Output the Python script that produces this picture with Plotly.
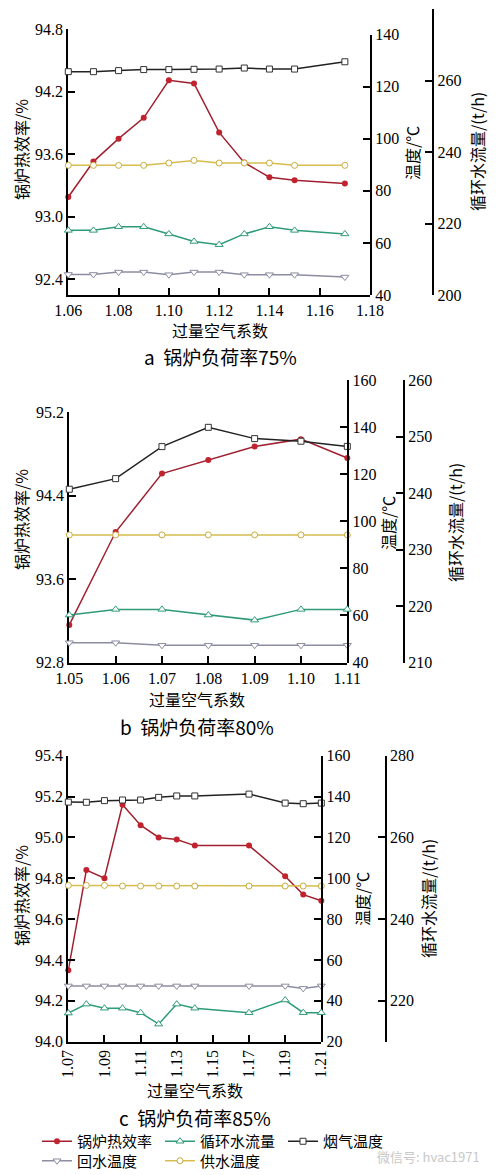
import plotly.graph_objects as go

W, H = 500, 1175
OFF = 8  # page body margin of the html page
NUM_FONT = "Liberation Serif"
CJK_FONT = "Noto Sans CJK SC"

# ── a: boiler load 75% ──
x_a = [1.06, 1.07, 1.08, 1.09, 1.10, 1.11, 1.12, 1.13, 1.14, 1.15, 1.17]
eff_a = [93.19, 93.53, 93.75, 93.95, 94.31, 94.28, 93.81, 93.52, 93.38, 93.35, 93.32]
flow_a = [218.1, 218.1, 219.1, 219.1, 217.1, 215.0, 214.1, 217.1, 219.1, 218.1, 217.1]
flue_a = [125.8, 125.8, 126.2, 126.6, 126.6, 126.7, 126.8, 127.2, 126.8, 126.8, 129.6]
ret_a = [47.9, 47.9, 48.8, 48.8, 47.8, 48.8, 48.8, 47.8, 47.8, 47.8, 46.9]
sup_a = [89.8, 89.8, 89.8, 89.8, 90.7, 91.7, 90.7, 90.7, 90.7, 89.8, 89.8]

# ── b: boiler load 80% ──
x_b = [1.05, 1.06, 1.07, 1.08, 1.09, 1.10, 1.11]
eff_b = [93.16, 94.05, 94.61, 94.74, 94.87, 94.94, 94.76]
flow_b = [218.4, 219.4, 219.4, 218.4, 217.5, 219.4, 219.4]
flue_b = [113.6, 118.1, 131.7, 139.9, 135.1, 134.0, 131.8]
ret_b = [48.4, 48.4, 47.3, 47.3, 47.3, 47.3, 47.3]
sup_b = [94.2, 94.2, 94.2, 94.2, 94.2, 94.2, 94.2]

# ── c: boiler load 85% ──
x_c = [1.07, 1.08, 1.09, 1.10, 1.11, 1.12, 1.13, 1.14, 1.17, 1.19, 1.20, 1.21]
eff_c = [94.35, 94.84, 94.80, 95.16, 95.06, 95.00, 94.99, 94.96, 94.96, 94.81, 94.72, 94.69]
flow_c = [217.0, 219.2, 218.2, 218.2, 217.1, 214.3, 219.2, 218.2, 217.1, 220.2, 217.1, 217.1]
flue_c = [137.3, 137.2, 138.0, 138.3, 138.3, 139.6, 140.3, 140.3, 141.2, 136.8, 136.5, 136.8]
ret_c = [47.3, 47.3, 47.3, 47.3, 47.3, 47.3, 47.3, 47.3, 47.3, 47.3, 46.1, 47.3]
sup_c = [96.5, 96.5, 96.5, 96.2, 96.2, 96.2, 96.2, 96.2, 96.2, 96.2, 96.2, 96.2]

# tick values
xt_a = [1.06, 1.08, 1.10, 1.12, 1.14, 1.16, 1.18]
xt_b = [1.05, 1.06, 1.07, 1.08, 1.09, 1.10, 1.11]
xt_c = [1.07, 1.09, 1.11, 1.13, 1.15, 1.17, 1.19, 1.21]
eff_t_a = [92.4, 93.0, 93.6, 94.2, 94.8]
eff_t_b = [92.8, 93.6, 94.4, 95.2]
eff_t_c = [94.0, 94.2, 94.4, 94.6, 94.8, 95.0, 95.2, 95.4]
tmp_t_a = [40, 60, 80, 100, 120, 140]
tmp_t_b = [40, 60, 80, 100, 120, 140, 160]
tmp_t_c = [20, 40, 60, 80, 100, 120, 140, 160]
flw_t_a = [200, 220, 240, 260, 280]
flw_t_b = [210, 220, 230, 240, 250, 260]
flw_t_c = [210, 220, 240, 260, 280]
flw_l_c = ["", "220", "240", "260", "280"]

NAMES = ["锅炉热效率", "循环水流量", "烟气温度", "回水温度", "供水温度"]


def fx(p):
    return (p - OFF) / W


def fy(p):
    return 1 - (p - OFF) / H


STYLE = {
    "eff": dict(line=dict(color="#a02030", width=1.5),
                marker=dict(symbol="circle", size=6, color="#c0222e")),
    "flow": dict(line=dict(color="#2e9b76", width=1.5),
                 marker=dict(symbol="triangle-up", size=7, color="white",
                             line=dict(color="#2e9b76", width=1))),
    "flue": dict(line=dict(color="#222222", width=1.5),
                 marker=dict(symbol="square", size=6, color="white",
                             line=dict(color="#333333", width=1))),
    "ret": dict(line=dict(color="#8c8ca2", width=1.5),
                marker=dict(symbol="triangle-down", size=7, color="white",
                            line=dict(color="#8c8ca2", width=1))),
    "sup": dict(line=dict(color="#d6bd4e", width=1.5),
                marker=dict(symbol="circle", size=6, color="white",
                            line=dict(color="#c9ad3c", width=1))),
}

fig = go.Figure()


def add_panel(xs, eff, flow, flue, ret, sup, xa, ya, yt, yf, legend=False):
    series = [("eff", eff, ya, "legend"), ("flow", flow, yf, "legend"),
              ("flue", flue, yt, "legend"), ("ret", ret, yt, "legend2"),
              ("sup", sup, yt, "legend2")]
    for name, (key, ys, yax, lg) in zip(NAMES, series):
        fig.add_trace(go.Scatter(
            x=xs, y=ys, xaxis=xa, yaxis=yax, mode="lines+markers",
            name=name, showlegend=legend, legend=lg, cliponaxis=False,
            **STYLE[key],
        ))


add_panel(x_a, eff_a, flow_a, flue_a, ret_a, sup_a, "x", "y", "y2", "y3")
add_panel(x_b, eff_b, flow_b, flue_b, ret_b, sup_b, "x2", "y4", "y5", "y6")
add_panel(x_c, eff_c, flow_c, flue_c, ret_c, sup_c, "x3", "y7", "y8", "y9", legend=True)

axis_common = dict(showline=True, linecolor="black", linewidth=2, ticks="inside",
                   ticklen=7, tickwidth=1.5, tickcolor="black", showgrid=False,
                   zeroline=False, automargin=False,
                   tickfont=dict(family=NUM_FONT, size=16, color="black"))


def xax(rng, dom, tv, fmt, anchor, angle=0):
    return dict(axis_common, range=rng, domain=dom, tickvals=tv, tickformat=fmt,
                anchor=anchor, tickangle=angle)


def yax(rng, dom, tv, fmt, anchor, side="left", pos=None, text=None):
    d = dict(axis_common, range=rng, domain=dom, tickvals=tv, tickformat=fmt,
             anchor=anchor, side=side)
    if pos is not None:
        d["position"] = pos
    if text is not None:
        d["ticktext"] = text
    return d


eps = 1e-6
# pixel geometry -> paper fractions
xa_dom = [fx(68.3), fx(370)]
xb_dom = [fx(69.3), fx(347.3)]
xc_dom = [fx(68.3), fx(321.3)]
ba, bb, bc = fy(295), fy(662.5), fy(1041.7)

leg = dict(orientation="h", x=fx(37), xanchor="left", yanchor="top",
           font=dict(family=CJK_FONT, size=15, color="black"),
           entrywidth=78, entrywidthmode="pixels", bgcolor="rgba(0,0,0,0)",
           itemwidth=30)

fig.update_layout(
    width=W, height=H, margin=dict(l=0, r=0, t=0, b=0, autoexpand=False),
    paper_bgcolor="white", plot_bgcolor="rgba(0,0,0,0)",
    font=dict(family=NUM_FONT, size=16, color="black"),
    xaxis=xax([1.06 - eps, 1.18 + eps], xa_dom, xt_a, ".2f", "y"),
    yaxis=yax([92.249, 94.8 + eps], [ba, fy(29.3)], eff_t_a, ".1f", "x"),
    yaxis2=yax([40 - eps, 140 + eps], [ba, fy(34.7)], tmp_t_a, "d", "x", side="right"),
    yaxis3=yax([200 - eps, 280 + eps], [ba, fy(9.3)], flw_t_a, "d", "free",
               side="right", pos=fx(433.3)),
    xaxis2=xax([1.05 - eps, 1.11 + eps], xb_dom, xt_b, ".2f", "y4"),
    yaxis4=yax([92.8 - eps, 95.2 + eps], [bb, fy(412)], eff_t_b, ".1f", "x2"),
    yaxis5=yax([40 - eps, 160 + eps], [bb, fy(380)], tmp_t_b, "d", "x2", side="right"),
    yaxis6=yax([210 - eps, 260 + eps], [bb, fy(380)], flw_t_b, "d", "free",
               side="right", pos=fx(404)),
    xaxis3=xax([1.07 - eps, 1.21 + eps], xc_dom, xt_c, ".2f", "y7", angle=-90),
    yaxis7=yax([94.0 - eps, 95.4 + eps], [bc, fy(755.7)], eff_t_c, ".1f", "x3"),
    yaxis8=yax([20 - eps, 160 + eps], [bc, fy(755.7)], tmp_t_c, "d", "x3", side="right"),
    yaxis9=yax([210 - eps, 280 + eps], [bc, fy(755.7)], flw_t_c, "d", "free",
               side="right", pos=fx(385.7), text=flw_l_c),
    legend=dict(leg, y=fy(1125)),
    legend2=dict(leg, y=fy(1144.5)),
)

# axis titles, captions (placed in pixels)
labels = [
    # text, x, y, angle, size
    ("锅炉热效率/%", 21, 150, -90, 16),
    ("温度/℃", 412, 153, -90, 16),
    ("循环水流量/(t/h)", 477, 152, -90, 16),
    ("过量空气系数", 220, 330, 0, 16),
    ("a  锅炉负荷率75%", 220, 356, 0, 19),
    ("锅炉热效率/%", 21, 520, -90, 16),
    ("温度/℃", 388, 523, -90, 16),
    ("循环水流量/(t/h)", 455, 523, -90, 16),
    ("过量空气系数", 197, 699, 0, 16),
    ("b  锅炉负荷率80%", 197, 726, 0, 19),
    ("锅炉热效率/%", 21, 896, -90, 16),
    ("温度/℃", 362, 899, -90, 16),
    ("循环水流量/(t/h)", 428, 899, -90, 16),
    ("过量空气系数", 195, 1090, 0, 16),
    ("c  锅炉负荷率85%", 195, 1117, 0, 19),
]
for text, x, y, ang, size in labels:
    fig.add_annotation(text=text, x=fx(x), y=fy(y), xref="paper", yref="paper",
                       xanchor="center", yanchor="middle",
                       showarrow=False, textangle=ang,
                       font=dict(family=CJK_FONT, size=size, color="black"))

fig.add_annotation(text="微信号: hvac1971", x=fx(428), y=fy(1156), xref="paper",
                   yref="paper", xanchor="center", yanchor="middle", showarrow=False,
                   font=dict(family=CJK_FONT, size=13, color="#c8c8c8"))

fig.write_html("out.html")
